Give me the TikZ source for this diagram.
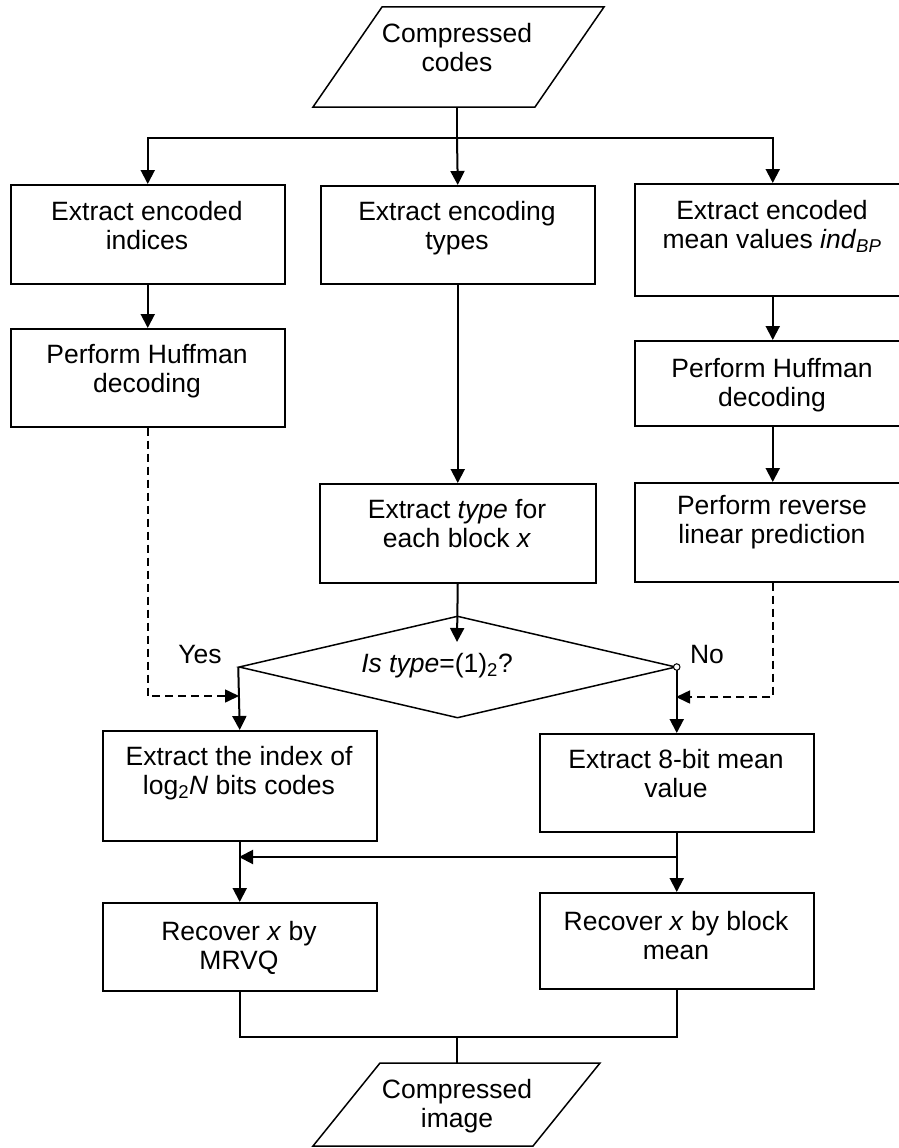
\documentclass[tikz,border=0pt]{standalone}
\usepackage{fontspec}
\setmainfont{Liberation Sans}
\usetikzlibrary{arrows.meta,shapes.geometric}

\begin{document}
\begin{tikzpicture}[x=1pt,y=-1pt,
  box/.style={draw, line width=1.5pt, rectangle, inner sep=0pt, anchor=north west},
  txt/.style={inner sep=0pt, align=center, anchor=north, font=\fontsize{26.5}{29}\selectfont},
  tag/.style={inner sep=0pt, anchor=base, font=\fontsize{26.5}{29}\selectfont},
  flow/.style={line width=2pt, -{Triangle[width=14pt,length=14pt]}},
  link/.style={line width=2pt},
  dashflow/.style={line width=1.6pt, dash pattern=on 8pt off 5pt, -{Triangle[width=13pt,length=14pt]}},
  io/.style={line width=1.5pt, line join=miter},
]
\useasboundingbox (0,0) rectangle (899,1148);
\clip (0,0) rectangle (899,1148);

% input parallelogram
\draw[io] (382,7) -- (604,7) -- (535,107) -- (313,107) -- cycle;
\node[txt] (src) at (457,21.7) {\strut Compressed\\codes};
\coordinate (srcbot) at (457,107);
\coordinate (split) at (457,138);

% first row of boxes
\node[box, minimum width=274pt, minimum height=99pt] (A1) at (10,184) {};
\node[txt] (tA1) at (147,199.7) {\strut Extract encoded\\indices};
\node[box, minimum width=274pt, minimum height=98pt] (B1) at (320,185) {};
\node[txt] (tB1) at (457,199.7) {\strut Extract encoding\\types};
\node[box, minimum width=276pt, minimum height=112pt] (C1) at (634,183) {};
\node[txt] (tC1) at (772,198.7) {\strut Extract encoded\\mean values \textit{ind}\textsubscript{\textit{BP}}};

% second row
\node[box, minimum width=274pt, minimum height=98pt] (A2) at (10,328) {};
\node[txt] (tA2) at (147,342.7) {\strut Perform Huffman\\decoding};
\node[box, minimum width=276pt, minimum height=85pt] (C2) at (634,340) {};
\node[txt] (tC2) at (772,356.7) {\strut Perform Huffman\\decoding};

% third row
\node[box, minimum width=276pt, minimum height=99pt] (B2) at (319,483) {};
\node[txt] (tB2) at (457,497.7) {\strut Extract \textit{type} for\\each block \textit{x}};
\node[box, minimum width=276pt, minimum height=99pt] (C3) at (634,482) {};
\node[txt] (tC3) at (772,493.7) {\strut Perform reverse\\linear prediction};

% decision
\node[draw, diamond, line width=1.5pt, inner sep=0pt, minimum width=437pt, minimum height=102pt] (Q) at (457.5,667) {};
\node[tag] (tQ) at (437,672) {\textit{Is type}=(1)\textsubscript{2}?};
\node[tag] (yes) at (200,663) {Yes};
\node[tag] (no) at (707,663) {No};
\coordinate (qin) at (457,642);

% branch boxes
\node[box, minimum width=274pt, minimum height=110pt] (D1) at (102,730) {};
\node[txt] (tD1) at (239,744.7) {\strut Extract the index of\\log\textsubscript{2}\textit{N} bits codes};
\node[box, minimum width=274pt, minimum height=98pt] (E1) at (539,733) {};
\node[txt] (tE1) at (676,747.7) {\strut Extract 8-bit mean\\value};
\node[box, minimum width=274pt, minimum height=88pt] (D2) at (102,902) {};
\node[txt] (tD2) at (239,919.7) {\strut Recover \textit{x} by\\MRVQ};
\node[box, minimum width=274pt, minimum height=96pt] (E2) at (539,892) {};
\node[txt] (tE2) at (676,909.7) {\strut Recover \textit{x} by block\\mean};

% output parallelogram
\draw[io] (380,1063) -- (600,1063) -- (533,1146) -- (313,1146) -- cycle;
\node[txt] (dst) at (457,1077.7) {\strut Compressed\\image};
\coordinate (dsttop) at (457,1063);
\coordinate (join) at (457,1037);

% connectors
\coordinate (yesin) at (239,696);
\coordinate (noin) at (676,697);
\coordinate (merge) at (676,857);
\coordinate (mergeL) at (239,857);

\draw[link] (srcbot) -- (split);
\draw[flow] (split) -| (A1.north);
\draw[flow] (split) -- (B1.north);
\draw[flow] (split) -| (C1.north);
\draw[flow] (A1.south) -- (A2.north);
\draw[flow] (C1.south) -- (C2.north);
\draw[flow] (C2.south) -- (C3.north);
\draw[flow] (B1.south) -- (B2.north);
\draw[flow] (B2.south) -- (qin);
\draw[dashflow] (A2.south) |- (yesin);
\draw[dashflow] (C3.south) |- (noin);
\draw[flow] (Q.west) -- (D1.north);
\draw[flow] (Q.east) -- (E1.north);
\node[circle, draw, fill=white, line width=1pt, inner sep=0pt, minimum size=6.5pt] (noend) at (Q.east) {};
\draw[flow] (D1.south) -- (D2.north);
\draw[flow] (E1.south) -- (E2.north);
\draw[flow] (merge) -- (mergeL);
\draw[link] (D2.south) |- (join) -| (E2.south);
\draw[link] (join) -- (dsttop);
\end{tikzpicture}
\end{document}
